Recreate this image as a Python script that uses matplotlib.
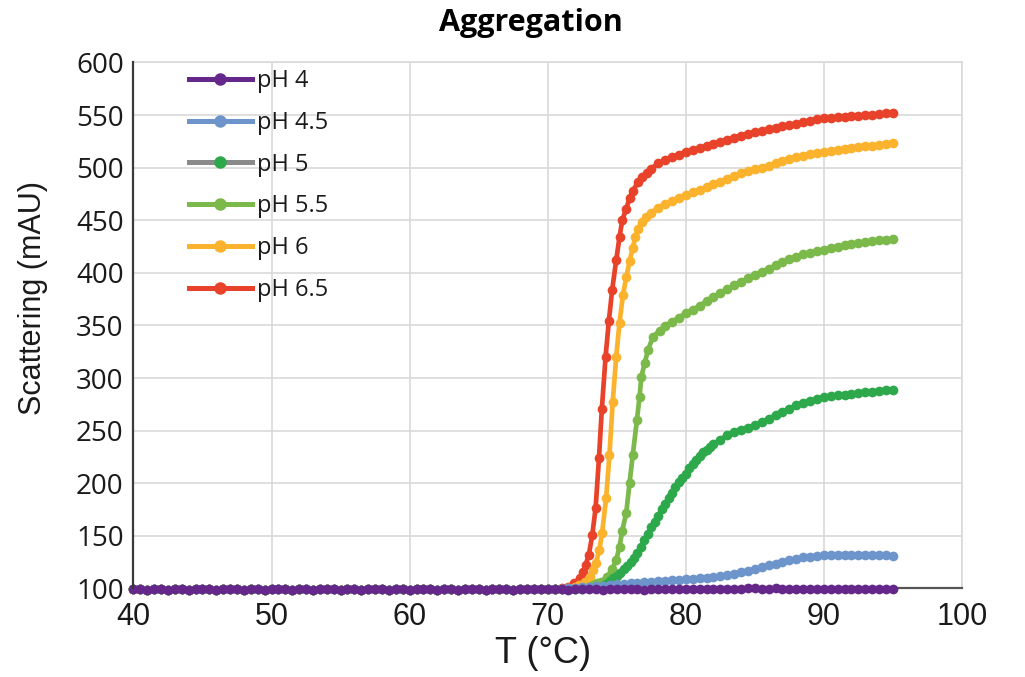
import matplotlib
matplotlib.use("Agg")
import matplotlib.pyplot as plt
from matplotlib.lines import Line2D

## All series share the flat baseline up to 70 C.
t_base = [40.0, 40.5, 41.0, 41.5, 42.0, 42.5, 43.0, 43.5, 44.0, 44.5,
	45.0, 45.5, 46.0, 46.5, 47.0, 47.5, 48.0, 48.5, 49.0, 49.5,
	50.0, 50.5, 51.0, 51.5, 52.0, 52.5, 53.0, 53.5, 54.0, 54.5,
	55.0, 55.5, 56.0, 56.5, 57.0, 57.5, 58.0, 58.5, 59.0, 59.5,
	60.0, 60.5, 61.0, 61.5, 62.0, 62.5, 63.0, 63.5, 64.0, 64.5,
	65.0, 65.5, 66.0, 66.5, 67.0, 67.5, 68.0, 68.5, 69.0, 69.5,
	70.0]
base = [99.0, 99.3, 98.8, 99.1, 99.4, 98.9, 99.0, 99.2, 98.7, 99.1,
	99.3, 99.0, 98.8, 99.2, 99.5, 99.0, 98.9, 99.1, 99.0, 98.7,
	99.2, 99.0, 99.3, 98.9, 99.1, 99.0, 98.8, 99.2, 99.0, 99.1,
	98.9, 99.3, 99.0, 98.8, 99.1, 99.0, 99.2, 98.9, 99.0, 99.1,
	98.8, 99.0, 99.2, 99.0, 98.9, 99.1, 99.0, 98.8, 99.1, 99.0,
	99.2, 98.9, 99.0, 99.1, 99.0, 98.9, 99.1, 99.0, 99.2, 99.0,
	99.1]

## pH 4 and pH 4.5 above 70 C
t_tail = [70.5, 71.0, 71.5, 72.0, 72.5, 73.0, 73.5, 74.0, 74.5, 75.0,
	75.5, 76.0, 76.5, 77.0, 77.5, 78.0, 78.5, 79.0, 79.5, 80.0,
	80.5, 81.0, 81.5, 82.0, 82.5, 83.0, 83.5, 84.0, 84.5, 85.0,
	85.5, 86.0, 86.5, 87.0, 87.5, 88.0, 88.5, 89.0, 89.5, 90.0,
	90.5, 91.0, 91.5, 92.0, 92.5, 93.0, 93.5, 94.0, 94.5, 95.0]
ph4_tail = [99.1, 99.3, 98.9, 99.2, 99.0, 99.4, 99.1, 98.8, 99.2, 99.5,
	99.0, 99.3, 99.1, 98.9, 99.4, 99.6, 99.2, 99.0, 99.3, 99.5,
	99.1, 99.4, 99.2, 99.6, 99.3, 99.0, 99.5, 99.8, 100.2, 100.0,
	99.7, 99.5, 99.9, 99.6, 99.3, 99.7, 99.5, 99.2, 99.6, 99.4,
	99.5, 99.3, 99.6, 99.4, 99.2, 99.5, 99.3, 99.6, 99.4, 99.5]
ph45_tail = [99.6, 99.8, 100.1, 100.5, 100.9, 101.4, 101.9, 102.5, 103.1, 103.7,
	104.3, 104.9, 105.5, 106.0, 106.5, 107.0, 107.4, 107.8, 108.1, 108.5,
	109.0, 109.5, 110.0, 110.6, 111.5, 112.6, 113.8, 115.2, 116.6, 118.2,
	120.0, 121.8, 123.6, 125.3, 126.9, 128.3, 129.4, 130.3, 131.0, 131.5,
	131.8, 132.0, 132.1, 132.1, 132.0, 131.9, 131.7, 131.5, 131.3, 131.1]

## pH 5
t5_tail = [70.5, 71.0, 71.5, 72.0, 72.5, 73.0, 73.5, 74.0,
	74.25, 74.5, 74.75, 75.0, 75.25, 75.5, 75.75, 76.0, 76.25, 76.5,
	76.75, 77.0, 77.25, 77.5, 77.75, 78.0, 78.25, 78.5, 78.75, 79.0,
	79.25, 79.5, 79.75, 80.0, 80.25, 80.5, 80.75, 81.0, 81.25, 81.5,
	81.75, 82.0,
	82.5, 83.0, 83.5, 84.0, 84.5, 85.0, 85.5, 86.0, 86.5, 87.0,
	87.5, 88.0, 88.5, 89.0, 89.5, 90.0, 90.5, 91.0, 91.5, 92.0,
	92.5, 93.0, 93.5, 94.0, 94.5, 95.0]
ph5_tail = [99.0, 99.1, 99.2, 99.4, 99.7, 100.1, 100.8, 102.0,
	104.0, 107.0, 109.5, 112.0, 115.0, 118.0, 121.5, 125.0, 129.0, 133.5,
	139.5, 146.0, 152.0, 158.0, 163.5, 169.0, 175.0, 180.5, 185.5, 191.0,
	196.0, 201.0, 205.0, 209.0, 214.0, 218.5, 222.5, 226.0, 229.5, 232.0,
	234.5, 237.0,
	241.5, 245.5, 248.5, 251.0, 252.5, 255.0, 258.0, 261.5, 264.5, 268.0,
	271.0, 274.0, 276.5, 278.5, 280.0, 281.5, 282.5, 283.5, 284.0, 285.0,
	285.5, 286.5, 287.0, 288.0, 288.5, 289.0]

## pH 5.5
t55_tail = [70.5, 71.0, 71.5, 72.0, 72.5, 73.0,
	73.26, 73.6, 73.87, 74.28, 74.67, 74.96, 75.2, 75.4, 75.69, 75.93,
	76.16, 76.46, 76.65, 76.78, 77.02, 77.26, 77.62, 78.1,
	78.5, 79.0, 79.5, 80.0, 80.5, 81.0, 81.5, 82.0, 82.5, 83.0,
	83.5, 84.0, 84.5, 85.0, 85.5, 86.0, 86.5, 87.0, 87.5, 88.0,
	88.5, 89.0, 89.5, 90.0, 90.5, 91.0, 91.5, 92.0, 92.5, 93.0,
	93.5, 94.0, 94.5, 95.0]
ph55_tail = [99.1, 99.2, 99.4, 99.7, 100.3, 101.5,
	103.2, 104.8, 106.4, 111.0, 118.1, 127.0, 139.6, 154.8, 172.0, 200.5,
	226.8, 260.0, 282.0, 301.0, 314.0, 326.6, 339.0, 345.0,
	349.5, 353.5, 357.5, 361.5, 365.0, 368.5, 373.0, 377.0, 381.0, 384.5,
	388.0, 391.5, 395.0, 398.0, 401.0, 404.0, 407.0, 410.0, 413.0, 415.5,
	417.5, 419.0, 420.5, 422.0, 423.5, 425.0, 426.0, 427.0, 428.0, 429.0,
	430.0, 431.0, 431.5, 432.0]

## pH 6
t6_tail = [70.5, 71.0, 71.5, 72.0,
	72.3, 72.67, 73.03, 73.26, 73.5, 73.74, 73.94, 74.23, 74.47, 74.71,
	74.96, 75.2, 75.45, 75.69, 75.93, 76.16, 76.35, 76.53, 76.8, 77.13,
	77.5, 78.0, 78.5, 79.0, 79.5, 80.0, 80.5, 81.0, 81.5, 82.0,
	82.5, 83.0, 83.5, 84.0, 84.5, 85.0, 85.5, 86.0, 86.5, 87.0,
	87.5, 88.0, 88.5, 89.0, 89.5, 90.0, 90.5, 91.0, 91.5, 92.0,
	92.5, 93.0, 93.5, 94.0, 94.5, 95.0]
ph6_tail = [99.2, 99.5, 100.0, 101.0,
	103.2, 106.4, 111.0, 117.5, 124.4, 136.5, 153.0, 185.6, 226.8, 277.5,
	320.0, 352.6, 379.0, 396.0, 411.0, 424.0, 434.0, 442.0, 448.0, 453.0,
	457.0, 462.0, 465.5, 468.5, 471.5, 474.0, 476.5, 479.0, 481.5, 484.0,
	486.5, 489.0, 492.0, 494.5, 496.5, 498.5, 500.0, 502.0, 504.0, 506.0,
	508.0, 510.0, 511.5, 513.0, 514.0, 515.0, 516.0, 517.0, 518.0, 518.8,
	519.5, 520.3, 521.0, 521.8, 522.5, 523.0]

## pH 6.5
t65_tail = [70.5, 71.0, 71.5,
	71.94, 72.31, 72.55, 72.74, 72.98, 73.23, 73.47, 73.71, 73.92, 74.19,
	74.43, 74.67, 74.96, 75.2, 75.4, 75.69, 75.93, 76.16, 76.53, 76.86, 77.16,
	77.5, 78.0, 78.5, 79.0, 79.5, 80.0, 80.5, 81.0, 81.5, 82.0,
	82.5, 83.0, 83.5, 84.0, 84.5, 85.0, 85.5, 86.0, 86.5, 87.0,
	87.5, 88.0, 88.5, 89.0, 89.5, 90.0, 90.5, 91.0, 91.5, 92.0,
	92.5, 93.0, 93.5, 94.0, 94.5, 95.0]
ph65_tail = [99.3, 100.2, 101.6,
	104.8, 109.6, 115.9, 122.2, 132.0, 151.0, 176.5, 223.5, 270.5, 320.0,
	354.5, 384.0, 412.0, 434.0, 450.0, 461.0, 471.0, 478.0, 486.0, 491.0, 495.0,
	499.0, 504.0, 507.0, 510.0, 512.5, 515.0, 517.0, 518.5, 520.5, 522.5,
	524.5, 526.5, 528.5, 530.5, 532.0, 533.5, 535.0, 536.5, 538.0, 539.5,
	540.5, 541.5, 543.0, 544.5, 546.0, 547.0, 547.5, 548.0, 548.5, 549.0,
	549.5, 550.0, 550.5, 551.0, 551.5, 552.0]

labels = ["pH 4", "pH 4.5", "pH 5", "pH 5.5", "pH 6", "pH 6.5"]
temps = [t_base + t_tail, t_base + t_tail, t_base + t5_tail,
	t_base + t55_tail, t_base + t6_tail, t_base + t65_tail]
values = [base + ph4_tail, base + ph45_tail, base + ph5_tail,
	base + ph55_tail, base + ph6_tail, base + ph65_tail]
colors = ["#65288a", "#6e95cb", "#2da84b", "#7ab94a", "#fbb32e", "#e8432a"]
legend_line_colors = ["#65288a", "#6e95cb", "#8a8a8a", "#7ab94a", "#fbb32e", "#e8432a"]

fig = plt.figure(figsize=(10.25, 6.77), dpi=100)
ax = fig.add_axes([0.1302, 0.1309, 0.8083, 0.7768])

## draw pH 6.5 first so that pH 4 sits on top of the baseline
for ii in reversed(range(len(labels))):
	ax.plot(temps[ii], values[ii], color=colors[ii], lw=3.4, marker="o",
		markersize=7, markeredgewidth=0, clip_on=False, zorder=3)

ax.set_xlim(40, 100)
ax.set_ylim(100, 600)
ax.set_xticks([40, 50, 60, 70, 80, 90, 100])
ax.set_yticks(range(100, 601, 50))
ax.grid(True, color="#d9d9d9", lw=1.2, zorder=0)
ax.set_axisbelow(True)
for side in ["top", "right"]:
	ax.spines[side].set_color("#d9d9d9")
	ax.spines[side].set_linewidth(1.2)
ax.spines["left"].set_color("#3a3a3a")
ax.spines["left"].set_linewidth(1.6)
ax.spines["bottom"].set_color("#555555")
ax.spines["bottom"].set_linewidth(1.6)
ax.spines["left"].set_zorder(4)

ax.tick_params(axis="both", length=0)
ax.tick_params(axis="y", pad=7, labelcolor="#1a1a1a")
ax.tick_params(axis="x", pad=10, labelcolor="#1a1a1a")
for lab in ax.get_yticklabels():
	lab.set_fontfamily("Open Sans")
	lab.set_fontsize(20)
for lab in ax.get_xticklabels():
	lab.set_fontfamily("Liberation Sans")
	lab.set_fontsize(22)

ax.set_xlabel("T (°C)", fontfamily="Liberation Sans", fontsize=26, color="#1a1a1a")
ax.xaxis.set_label_coords(0.494, -0.124)
ax.xaxis.label.set_va("center")
ax.set_ylabel("Scattering (mAU)", fontfamily="Liberation Sans", fontsize=22, color="#1a1a1a")
ax.yaxis.set_label_coords(-0.121, 0.552)
ax.yaxis.label.set_va("center")

fig.text(0.518, 0.966, "Aggregation", fontfamily="Open Sans", fontweight="bold",
	fontsize=22, ha="center", va="center")

handles = []
for ii in range(len(labels)):
	handles.append(Line2D([], [], color=legend_line_colors[ii], lw=3.6, marker="o",
		markersize=9, markerfacecolor=colors[ii], markeredgewidth=0))
leg = ax.legend(handles, labels, loc="upper left", bbox_to_anchor=(0.067, 0.987),
	frameon=False, borderpad=0, borderaxespad=0, handlelength=2.65,
	handletextpad=0.25, labelspacing=0.75, prop={"family": "Open Sans", "size": 17})
for txt in leg.get_texts():
	txt.set_color("#1a1a1a")

fig.savefig("out.png", dpi=100)
